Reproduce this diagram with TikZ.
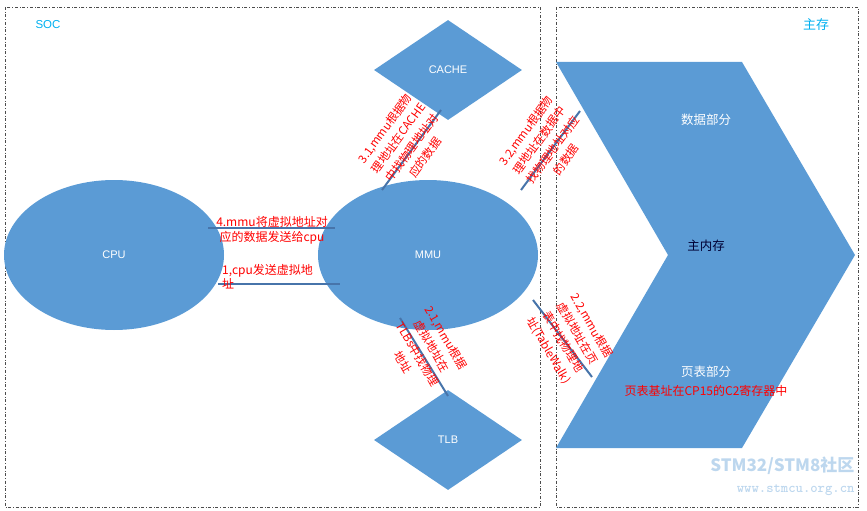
\documentclass[tikz,border=0pt]{standalone}
\usepackage{fontspec}
\setmainfont{Liberation Sans}
\newfontfamily\cjk{Noto Sans CJK SC}
\usetikzlibrary{shapes.geometric}
\definecolor{fillb}{HTML}{5B9BD5}
\definecolor{lineb}{HTML}{4F81BD}
\definecolor{cyanl}{HTML}{00B0F0}
\begin{document}
\begin{tikzpicture}[x=1pt,y=-1pt,
  blob/.style={fill=fillb,draw=none},
  conn/.style={draw=lineb!90!black,line width=2pt},
  lbl/.style={text=red,font=\cjk\fontsize{12}{14.5}\selectfont,align=center,inner sep=0pt},
  rlbl/.style={lbl,font=\cjk\fontsize{11.5}{16.5}\selectfont},
  inner/.style={font=\cjk\fontsize{12.5}{14}\selectfont,inner sep=0pt},
  box/.style={draw=black!70,dash dot,line width=0.5pt}]
\useasboundingbox (0,0) rectangle (867,511);
\draw[box] (5,7) rectangle (540,507);
\draw[box] (556,7) rectangle (858,507);
\node[text=cyanl,font=\fontsize{11.5}{13}\selectfont] (soc) at (48,25) {SOC};
\node[text=cyanl,font=\cjk\fontsize{13}{14}\selectfont] (zc) at (816,25) {主存};
\node[blob,ellipse,minimum width=220,minimum height=150,inner sep=0,font=\fontsize{11}{13}\selectfont,text=white] (cpu) at (114,255) {CPU};
\node[blob,ellipse,minimum width=220,minimum height=150,inner sep=0,font=\fontsize{11}{13}\selectfont,text=white] (mmu) at (428,255) {MMU};
\node[blob,diamond,aspect=1.48,minimum width=148,minimum height=100,inner sep=0,font=\fontsize{11}{13}\selectfont,text=white] (cache) at (448,70) {CACHE};
\node[blob,diamond,aspect=1.48,minimum width=148,minimum height=100,inner sep=0,font=\fontsize{11}{13}\selectfont,text=white] (tlb) at (448,440) {TLB};
\fill[fillb] (556,62) -- (742,62) -- (855,255) -- (742,448) -- (556,448) -- (668,255) -- cycle;
\node[inner,text=white] (data) at (706,120) {数据部分};
\node[inner,text=black!80!blue] (mainm) at (706,246) {主内存};
\node[inner,text=white] (pt) at (706,372) {页表部分};
\node[lbl] (ptb) at (706,391) {页表基址在CP15的C2寄存器中};
% connectors
\coordinate (a1) at (208,228); \coordinate (a2) at (335,228);
\draw[conn] (a1) -- (a2);
\node[lbl,anchor=south] (l4) at (272,244) {4.mmu将虚拟地址对\\应的数据发送给cpu};
\coordinate (b1) at (218,284); \coordinate (b2) at (340,284);
\draw[conn] (b1) -- (b2);
\node[lbl,anchor=north west,align=left] (l1) at (222,264) {1,cpu发送虚拟地\\址};
\coordinate (c1) at (382,190); \coordinate (c2) at (441,110);
\draw[conn] (c1) -- (c2);
\node[rlbl,rotate=54] (l31) at (405,143) {3.1,mmu根据物\\理地址在CACHE\\中找物理地址对\\应的数据};
\coordinate (d1) at (521,190); \coordinate (d2) at (580,111);
\draw[conn] (d1) -- (d2);
\node[rlbl,rotate=54] (l32) at (546,145) {3.2,mmu根据物\\理地址在数据中\\找物理地址对应\\的数据};
\coordinate (e1) at (400,318); \coordinate (e2) at (448,396);
\draw[conn] (e1) -- (e2);
\node[rlbl,rotate=-60] (l21) at (425,350) {2.1,mmu根据\\虚拟地址在\\TLBs中找物理\\地址};
\coordinate (f1) at (533,300); \coordinate (f2) at (592,377);
\draw[conn] (f1) -- (f2);
\node[rlbl,rotate=-60] (l22) at (570,338) {2.2,mmu根据\\虚拟地址在页\\表中找物理地\\址(TableWalk)};
\node[text=fillb!40,font=\cjk\fontsize{17}{18}\selectfont\bfseries,anchor=east] (wm1) at (858,466) {STM32/STM8社区};
\node[text=fillb!40,font=\fontsize{14}{15}\selectfont\bfseries\ttfamily,anchor=east] (wm2) at (858,490) {www.stmcu.org.cn};
\end{tikzpicture}
\end{document}
